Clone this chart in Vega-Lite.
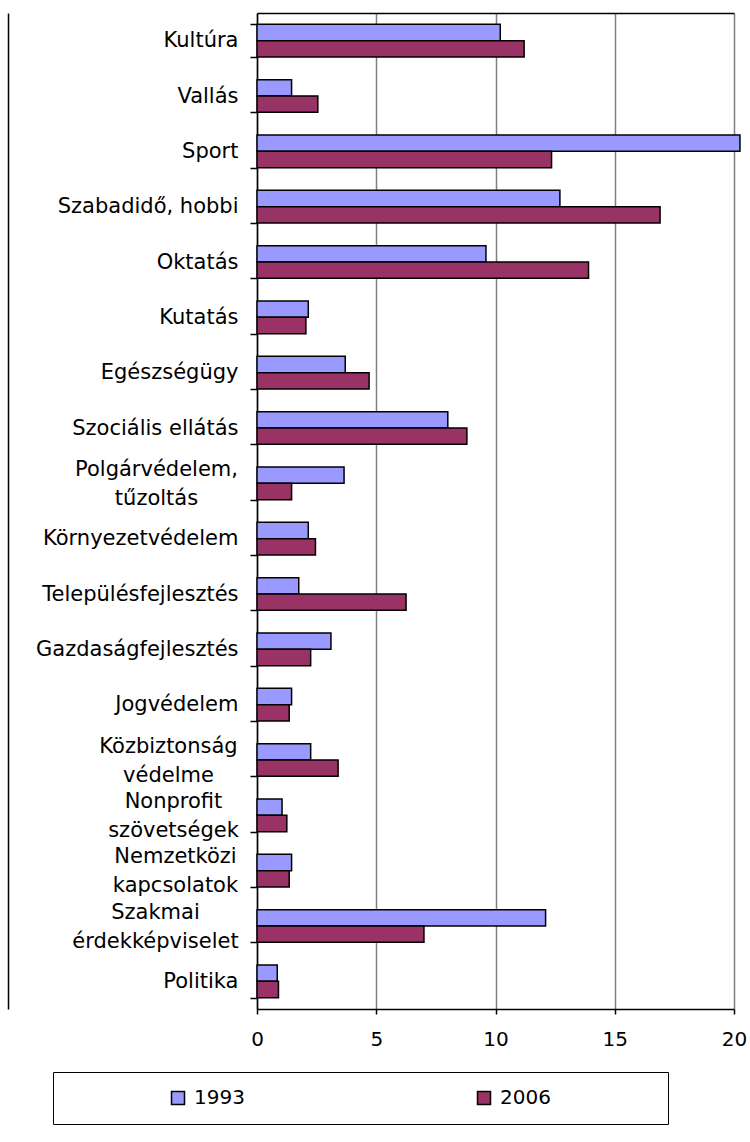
{
  "$schema": "https://vega.github.io/schema/vega-lite/v6.json",
  "width": 477,
  "height": 996,
  "autosize": {"type": "none"},
  "padding": {"left": 257, "top": 13, "right": 16, "bottom": 133},
  "background": "white",
  "config": {"view": {"stroke": null}},
  "data": {
    "values": [
      {"cat": "Kultúra", "year": "1993", "value": 10.2},
      {"cat": "Kultúra", "year": "2006", "value": 11.2},
      {"cat": "Vallás", "year": "1993", "value": 1.45},
      {"cat": "Vallás", "year": "2006", "value": 2.55},
      {"cat": "Sport", "year": "1993", "value": 20.25},
      {"cat": "Sport", "year": "2006", "value": 12.35},
      {"cat": "Szabadidő, hobbi", "year": "1993", "value": 12.7},
      {"cat": "Szabadidő, hobbi", "year": "2006", "value": 16.9},
      {"cat": "Oktatás", "year": "1993", "value": 9.6},
      {"cat": "Oktatás", "year": "2006", "value": 13.9},
      {"cat": "Kutatás", "year": "1993", "value": 2.15},
      {"cat": "Kutatás", "year": "2006", "value": 2.05},
      {"cat": "Egészségügy", "year": "1993", "value": 3.7},
      {"cat": "Egészségügy", "year": "2006", "value": 4.7},
      {"cat": "Szociális ellátás", "year": "1993", "value": 8.0},
      {"cat": "Szociális ellátás", "year": "2006", "value": 8.8},
      {"cat": "Polgárvédelem, tűzoltás", "year": "1993", "value": 3.65},
      {"cat": "Polgárvédelem, tűzoltás", "year": "2006", "value": 1.45},
      {"cat": "Környezetvédelem", "year": "1993", "value": 2.15},
      {"cat": "Környezetvédelem", "year": "2006", "value": 2.45},
      {"cat": "Településfejlesztés", "year": "1993", "value": 1.75},
      {"cat": "Településfejlesztés", "year": "2006", "value": 6.25},
      {"cat": "Gazdaságfejlesztés", "year": "1993", "value": 3.1},
      {"cat": "Gazdaságfejlesztés", "year": "2006", "value": 2.25},
      {"cat": "Jogvédelem", "year": "1993", "value": 1.45},
      {"cat": "Jogvédelem", "year": "2006", "value": 1.35},
      {"cat": "Közbiztonság védelme", "year": "1993", "value": 2.25},
      {"cat": "Közbiztonság védelme", "year": "2006", "value": 3.4},
      {"cat": "Nonprofit szövetségek", "year": "1993", "value": 1.05},
      {"cat": "Nonprofit szövetségek", "year": "2006", "value": 1.25},
      {"cat": "Nemzetközi kapcsolatok", "year": "1993", "value": 1.45},
      {"cat": "Nemzetközi kapcsolatok", "year": "2006", "value": 1.35},
      {"cat": "Szakmai érdekképviselet", "year": "1993", "value": 12.1},
      {"cat": "Szakmai érdekképviselet", "year": "2006", "value": 7.0},
      {"cat": "Politika", "year": "1993", "value": 0.85},
      {"cat": "Politika", "year": "2006", "value": 0.9}
    ]
  },
  "layer": [
    {
      "mark": {"type": "bar", "stroke": "black", "strokeWidth": 1.5},
      "encoding": {
        "y": {
          "field": "cat",
          "type": "nominal",
          "sort": null,
          "scale": {"paddingInner": 0.41, "paddingOuter": 0.205},
          "axis": {
            "title": null,
            "orient": "left",
            "ticks": true,
            "tickBand": "extent",
            "tickSize": 7,
            "tickColor": "black",
            "tickWidth": 1.5,
            "domainColor": "black",
            "domainWidth": 1.5,
            "labelFont": "DejaVu Sans",
            "labelFontSize": 21,
            "labelColor": "black",
            "labelLimit": 300,
            "labelLineHeight": 29,
            "labelBaseline": "middle",
            "labelExpr": "indexof(['Polgárvédelem, tűzoltás','Közbiztonság védelme','Nonprofit szövetségek','Nemzetközi kapcsolatok','Szakmai érdekképviselet'], datum.label) >= 0 ? split(datum.label, ' ') : datum.label",
            "labelAlign": {
              "condition": {"test": "indexof(['Polgárvédelem, tűzoltás','Közbiztonság védelme','Nonprofit szövetségek','Nemzetközi kapcsolatok','Szakmai érdekképviselet'], datum.value) >= 0", "value": "center"},
              "value": "right"
            },
            "labelOffset": {
              "condition": {"test": "indexof(['Polgárvédelem, tűzoltás','Közbiztonság védelme','Nonprofit szövetségek','Nemzetközi kapcsolatok','Szakmai érdekképviselet'], datum.value) >= 0", "value": -14},
              "value": 0
            },
            "labelPadding": {
              "condition": [
                {"test": "datum.value === 'Polgárvédelem, tűzoltás'", "value": 94},
                {"test": "datum.value === 'Közbiztonság védelme'", "value": 82},
                {"test": "datum.value === 'Nonprofit szövetségek'", "value": 77},
                {"test": "datum.value === 'Nemzetközi kapcsolatok'", "value": 75},
                {"test": "datum.value === 'Szakmai érdekképviselet'", "value": 95}
              ],
              "value": 12
            }
          }
        },
        "yOffset": {
          "field": "year",
          "type": "nominal",
          "sort": ["1993", "2006"],
          "scale": {"paddingInner": 0, "paddingOuter": 0}
        },
        "x": {
          "field": "value",
          "type": "quantitative",
          "scale": {"domain": [0, 20], "nice": false},
          "axis": {
            "title": null,
            "orient": "bottom",
            "values": [0, 5, 10, 15, 20],
            "grid": true,
            "gridColor": "#808080",
            "gridWidth": 1.5,
            "domainColor": "black",
            "domainWidth": 1.5,
            "tickColor": "black",
            "tickWidth": 1.5,
            "tickSize": 5,
            "labelFont": "DejaVu Sans",
            "labelFontSize": 20,
            "labelColor": "black",
            "labelPadding": 15,
            "labelFlush": false
          }
        },
        "color": {
          "field": "year",
          "type": "nominal",
          "scale": {"domain": ["1993", "2006"], "range": ["#9999FF", "#993366"]},
          "legend": {
            "title": " ",
            "titleOrient": "right",
            "titlePadding": 101,
            "titleFontSize": 20,
            "orient": "none",
            "legendX": -204,
            "legendY": 1059,
            "direction": "horizontal",
            "columns": 2,
            "symbolType": "square",
            "symbolSize": 169,
            "symbolStrokeColor": "black",
            "symbolStrokeWidth": 1.5,
            "symbolOpacity": 1,
            "symbolOffset": 99,
            "labelOffset": 6,
            "columnPadding": 130,
            "labelFont": "DejaVu Sans",
            "labelFontSize": 20,
            "labelColor": "black",
            "strokeColor": "black",
            "padding": 16
          }
        }
      }
    },
    {
      "mark": {"type": "tick", "opacity": 0},
      "encoding": {
        "y": {
          "field": "cat",
          "type": "nominal",
          "sort": null,
          "axis": {
            "title": null,
            "orient": "left",
            "offset": 249,
            "labels": false,
            "ticks": false,
            "grid": false,
            "domainColor": "black",
            "domainWidth": 1.5
          }
        },
        "x": {
          "field": "value",
          "type": "quantitative",
          "axis": {
            "title": null,
            "orient": "top",
            "labels": false,
            "ticks": false,
            "grid": false,
            "domainColor": "black",
            "domainWidth": 1.5
          }
        }
      }
    }
  ],
  "resolve": {"axis": {"x": "independent", "y": "independent"}}
}
